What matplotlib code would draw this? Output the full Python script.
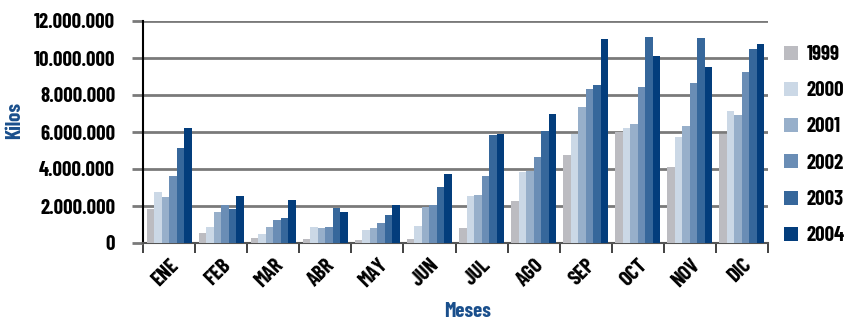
import numpy as np
import matplotlib.pyplot as plt
from matplotlib.ticker import FuncFormatter

meses = ["ENE", "FEB", "MAR", "ABR", "MAY", "JUN", "JUL", "AGO", "SEP", "OCT", "NOV", "DIC"]
anios = ["1999", "2000", "2001", "2002", "2003", "2004"]

# kilos por mes (millones)
k1999 = [1.83, 0.54, 0.27, 0.22, 0.16, 0.22, 0.81, 2.27, 4.75, 5.99, 4.10, 5.88]
k2000 = [2.75, 0.86, 0.49, 0.86, 0.70, 0.92, 2.54, 3.83, 5.88, 6.20, 5.72, 7.12]
k2001 = [2.48, 1.67, 0.86, 0.81, 0.81, 1.94, 2.59, 3.88, 7.34, 6.42, 6.31, 6.91]
k2002 = [3.62, 2.05, 1.24, 0.86, 1.08, 2.05, 3.62, 4.64, 8.31, 8.42, 8.63, 9.23]
k2003 = [5.13, 1.83, 1.35, 1.89, 1.51, 3.02, 5.83, 6.04, 8.53, 11.12, 11.06, 10.47]
k2004 = [6.20, 2.54, 2.32, 1.67, 2.05, 3.72, 5.88, 6.96, 11.00, 10.09, 9.50, 10.74]
series = [k1999, k2000, k2001, k2002, k2003, k2004]
colores = ["#bcbcc1", "#cbd8e6", "#97afca", "#6a8db5", "#36679b", "#033d7c"]

plt.rcParams['font.family'] = ['Barlow Condensed', 'DejaVu Sans']
plt.rcParams['font.stretch'] = 'condensed'
plt.rcParams['font.weight'] = 'bold'
plt.rcParams['axes.labelweight'] = 'bold'

fig = plt.figure(figsize=(8.46, 3.21), dpi=100)
ax = fig.add_axes([143/846, 78/321, 625/846, 222/321])

x = np.arange(len(meses))
w = 0.865 / 6
for i, (s, c, a) in enumerate(zip(series, colores, anios)):
    ax.bar(x - 0.865/2 + w*(i + 0.5), np.array(s)*1e6, width=w, color=c, label=a, zorder=3)

ax.set_xlim(-0.5, 11.5)
ax.set_ylim(0, 12e6)
ax.set_yticks(np.arange(0, 12.1e6, 2e6))
ax.yaxis.set_major_formatter(FuncFormatter(lambda v, p: f"{int(v):,}".replace(",", ".")))
ax.grid(axis='y', color='#7a7a7a', linewidth=2, zorder=0)
ax.set_xticks(np.arange(-0.5, 12, 1))
ax.set_xticklabels([])
ax.set_xticks(x, minor=True)
ax.set_xticklabels(meses, minor=True, rotation=45, ha='right', va='top',
                   rotation_mode='anchor', fontsize=15)
ax.tick_params(axis='x', which='minor', length=0, pad=9)
ax.tick_params(axis='x', which='major', length=7, width=1.3, color='#333333')
ax.tick_params(axis='y', length=8, width=2, color='#7a7a7a', labelsize=15, pad=12)

for sp in ['top', 'right']:
    ax.spines[sp].set_visible(False)
ax.spines['left'].set_color('black')
ax.spines['left'].set_linewidth(1.5)
ax.spines['bottom'].set_color('#555555')
ax.spines['bottom'].set_linewidth(1.5)

ax.set_ylabel("Kilos", color='#1a4f8c', fontsize=15)
ax.yaxis.set_label_coords(-0.19, 0.55)
ax.set_xlabel("Meses", color='#1a4f8c', fontsize=15)
ax.xaxis.set_label_coords(0.52, -0.265)

ax.legend(loc='upper left', bbox_to_anchor=(1.013, 0.93), frameon=False,
          fontsize=15, handlelength=0.65, handleheight=0.65, labelspacing=0.83,
          handletextpad=0.4, borderaxespad=0)

fig.savefig("out.png", dpi=100)
